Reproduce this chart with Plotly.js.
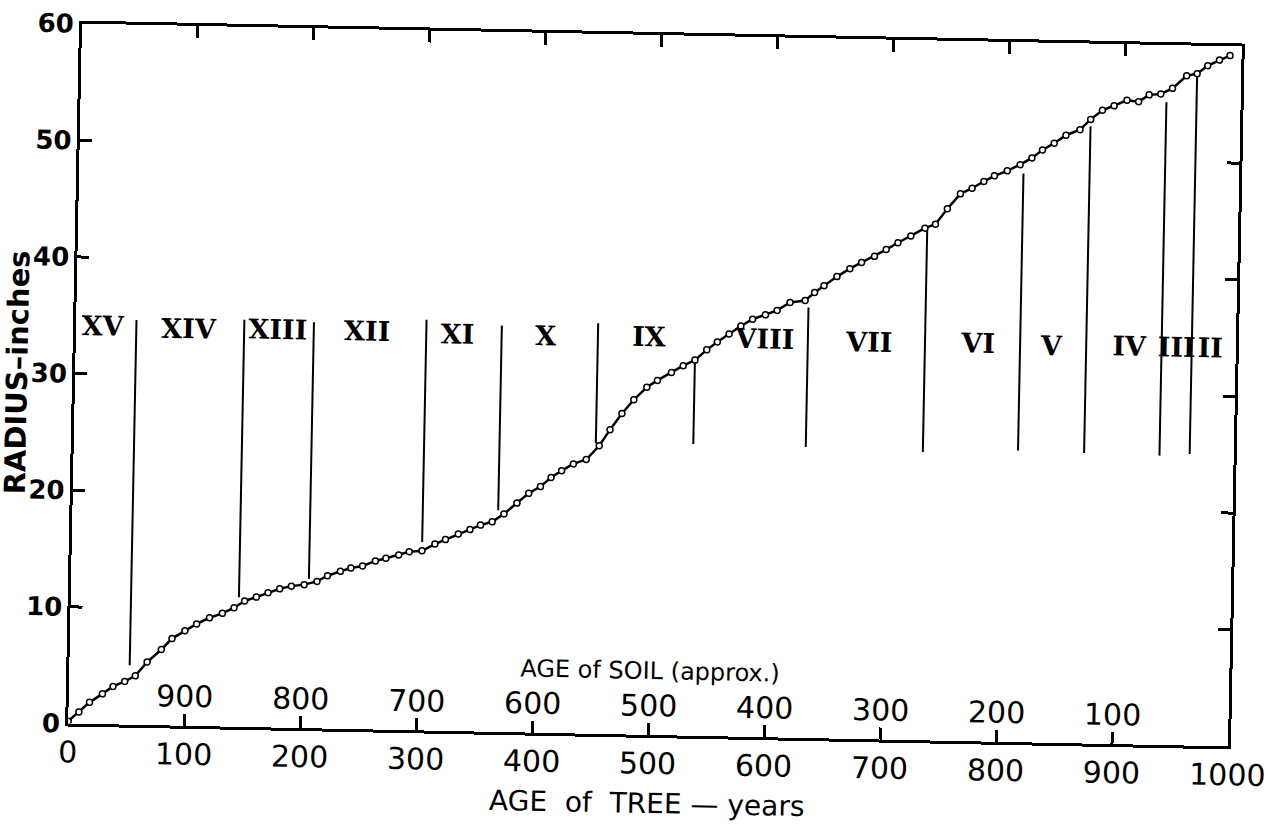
<!DOCTYPE html>
<html><head><meta charset="utf-8">
<script src="https://cdn.plot.ly/plotly-3.0.1.min.js"></script>
<style>
html,body{margin:0;padding:0;background:#fff;overflow:hidden}
#chart{width:1300px;height:825px;transform:rotate(1.13deg);transform-origin:654.5px 384.5px}
</style></head><body><div id="chart"></div>
<script>
// Growth curve: age of tree (years) vs radius (inches)
const treeAge = [0,9,18,29,38,48,57,67,79,88,99,109,120,131,141,150,160,170,180,190,201,212,221,232,241,251,262,271,282,291,302,313,322,333,343,352,362,372,383,393,403,412,421,431,442,453,462,472,482,493,502,514,524,534,544,553,563,573,583,594,604,615,628,636,644,655,666,676,687,697,707,718,730,739,749,760,770,780,789,800,811,821,830,840,850,862,871,881,891,902,912,921,931,941,953,962,971,981,990];
const radius  = [0.2,1.0,1.85,2.6,3.25,3.7,4.2,5.4,6.5,7.45,8.15,8.75,9.3,9.7,10.2,10.8,11.15,11.55,11.9,12.15,12.3,12.6,13.1,13.5,13.8,14.0,14.45,14.7,15.0,15.3,15.4,16.0,16.4,16.9,17.3,17.7,18.0,18.7,19.65,20.5,21.1,21.9,22.5,23.1,23.5,24.7,26.1,27.5,28.7,29.8,30.4,31.1,31.7,32.2,33.1,33.8,34.5,35.2,35.8,36.2,36.6,37.3,37.5,38.2,38.8,39.6,40.3,40.85,41.4,42.0,42.6,43.2,43.9,44.25,45.6,46.9,47.4,48.0,48.5,48.95,49.5,50.1,50.8,51.4,52.1,52.6,53.5,54.3,54.7,55.2,55.1,55.7,55.8,56.3,57.4,57.6,58.3,58.8,59.2];

// Zone dividing lines
const divAge    = [52,145,205,302,367,450,534,631,732,814,871,936,962];
const divTop    = [34.7,34.9,34.8,35.2,34.85,35.2,32.0,36.9,44.0,48.75,52.9,55.1,57.3];
const divBottom = [5.1,11.1,12.8,16.15,19.0,24.9,25.0,24.95,24.7,25.0,24.9,24.8,25.0];

// Zone labels
const zoneLabels = ['XV','XIV','XIII','XII','XI','X','IX','VIII','VII','VI','V','IV','III','II'];
const zoneAge    = [23,97,174,251,329,405,494,594,684,778,841,908,949,978];
const zoneRadius = [33.9,33.8,33.9,33.9,33.8,33.8,33.9,33.9,33.8,33.9,33.8,33.9,33.9,33.9];

// Axes
const treeTicks    = [0,100,200,300,400,500,600,700,800,900,1000];
const treeTickText = ['0','100','200','300','400','500','600','700','800','900','1000'];
const soilTicks    = [100,200,300,400,500,600,700,800,900];
const soilTickText = ['900','800','700','600','500','400','300','200','100'];
const radiusTicks  = [0,10,20,30,40,50,60];

const divX = [], divY = [];
for (let i = 0; i < divAge.length; i++) {
  divX.push(divAge[i], divAge[i], null);
  divY.push(divTop[i], divBottom[i], null);
}

const traces = [
  {x: divX, y: divY, mode: 'lines', line: {color: '#000', width: 2}, hoverinfo: 'skip', xaxis: 'x', yaxis: 'y'},
  {x: treeAge, y: radius, mode: 'lines+markers', line: {color: '#000', width: 2.5},
   marker: {symbol: 'circle', size: 6, color: '#fff', line: {color: '#000', width: 1.5}}, xaxis: 'x', yaxis: 'y'},
  {x: zoneAge, y: zoneRadius, mode: 'text', text: zoneLabels, textposition: 'middle center',
   textfont: {family: 'DejaVu Serif', size: 27, weight: 'bold', color: '#000'}, cliponaxis: false, xaxis: 'x2', yaxis: 'y'}
];

const layout = {
  width: 1300, height: 825,
  margin: {l: 75, r: 65, t: 35, b: 90},
  paper_bgcolor: '#fff', plot_bgcolor: '#fff', showlegend: false,
  font: {family: 'DejaVu Sans', color: '#000'},
  xaxis: {
    range: [0, 1000], tickvals: treeTicks, ticktext: treeTickText,
    ticks: 'inside', ticklen: 12, tickwidth: 3, tickcolor: '#000',
    showline: true, linewidth: 3, linecolor: '#000', mirror: 'ticks',
    showgrid: false, zeroline: false, tickfont: {size: 30, color: '#000'},
    ticklabeloverflow: 'allow',
    title: {text: 'AGE  of  TREE — years', font: {size: 28, color: '#000'}, standoff: 14}
  },
  xaxis2: {
    overlaying: 'x', anchor: 'y', side: 'bottom', range: [0, 1000],
    tickvals: soilTicks, ticktext: soilTickText, ticks: '',
    showline: false, showgrid: false, zeroline: false,
    ticklabelposition: 'inside', ticklabelstandoff: 10, ticklabeloverflow: 'allow',
    tickfont: {size: 30, color: '#000'}
  },
  yaxis: {
    range: [0, 60], tickvals: radiusTicks,
    ticks: 'inside', ticklen: 12, tickwidth: 3, tickcolor: '#000',
    showline: true, linewidth: 3, linecolor: '#000', mirror: 'ticks',
    showgrid: false, zeroline: false, tickfont: {size: 26, weight: 'bold', color: '#000'},
    ticklabeloverflow: 'allow',
    title: {text: 'RADIUS–inches', font: {size: 29, weight: 'bold', color: '#000'}, standoff: 2}
  },
  annotations: [
    {text: 'AGE of SOIL (approx.)', x: 500, y: 5.5, xref: 'x', yref: 'y', showarrow: false, font: {size: 24, color: '#000'}}
  ]
};

Plotly.newPlot('chart', traces, layout, {staticPlot: true, displayModeBar: false});
</script></body></html>
